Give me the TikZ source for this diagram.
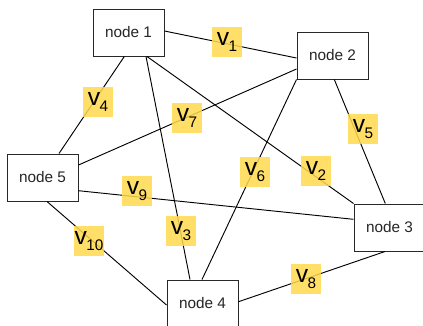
\documentclass[tikz,border=0pt]{standalone}
\usepackage{fontspec}
\setmainfont{Liberation Sans}
\usetikzlibrary{calc}
\definecolor{tagyellow}{RGB}{255,217,77}
\definecolor{boxline}{RGB}{40,40,40}
\newcommand{\vlab}[1]{{\fontsize{18.5}{18.5}\selectfont v}\kern-0.3pt\raisebox{-5pt}{\fontsize{11.5}{11.5}\selectfont #1}}
\tikzset{
  graphnode/.style={draw=boxline, line width=0.75pt, fill=white, rectangle,
    minimum width=53.25pt, minimum height=35.25pt, inner sep=0pt,
    font=\fontsize{11.5}{13}\selectfont, text=black!85},
  edgeline/.style={draw=black, line width=0.7pt},
  vtag/.style={fill=tagyellow, fill opacity=0.85, text opacity=1, inner sep=0pt,
    minimum width=22.5pt, minimum height=22.5pt, text=black}
}
\begin{document}
\begin{tikzpicture}[x=0.75pt, y=-0.75pt]
  \useasboundingbox (0,0) rectangle (423,325);
  \clip (0,0) rectangle (423,325);

  % vertices
  \node[graphnode] (n1) at (128.5,32.5) {node 1};
  \node[graphnode] (n2) at (332.5,55.5) {node 2};
  \node[graphnode] (n3) at (389.5,227.5) {node 3};
  \node[graphnode] (n4) at (202.5,303.5) {node 4};
  \node[graphnode] (n5) at (42.5,177.5) {node 5};

  % edges
  \draw[edgeline] ($(n1.east)+(0,-1.5)$) -- ($(n2.west)+(0,2.5)$);
  \draw[edgeline] ($(n1.south)+(18.5,0)$) -- (n3.north west);
  \draw[edgeline] ($(n1.south)+(17.5,0)$) -- ($(n4.north)+(-12.5,0)$);
  \draw[edgeline] ($(n1.south)+(-4.2,0)$) -- ($(n5.north)+(16.5,0)$);
  \draw[edgeline] ($(n2.south)+(1.8,0)$) -- ($(n3.north)+(-4.2,0)$);
  \draw[edgeline] (n2.south west) -- ($(n4.north)+(-0.5,0)$);
  \draw[edgeline] ($(n5.east)+(0,-12.5)$) -- ($(n2.west)+(0,13.5)$);
  \draw[edgeline] ($(n4.east)+(0,-1.8)$) -- ($(n3.south)+(-4.5,0)$);
  \draw[edgeline] ($(n5.east)+(0,13.2)$) -- ($(n3.west)+(0,-8.2)$);
  \draw[edgeline] ($(n5.south)+(4.5,0)$) -- ($(n4.west)+(0,1.5)$);

  % edge tags
  \node[vtag] (t1) at (227,42) {\vlab{1}};
  \node[vtag] (t2) at (316,171) {\vlab{2}};
  \node[vtag] (t3) at (181,231) {\vlab{3}};
  \node[vtag] (t4) at (98,102) {\vlab{4}};
  \node[vtag] (t5) at (363,129) {\vlab{5}};
  \node[vtag] (t6) at (255,172) {\vlab{6}};
  \node[vtag] (t7) at (187,118) {\vlab{7}};
  \node[vtag] (t8) at (306,279) {\vlab{8}};
  \node[vtag] (t9) at (137,191) {\vlab{9}};
  \node[vtag] (t10) at (89,241) {\vlab{10}};
\end{tikzpicture}
\end{document}
